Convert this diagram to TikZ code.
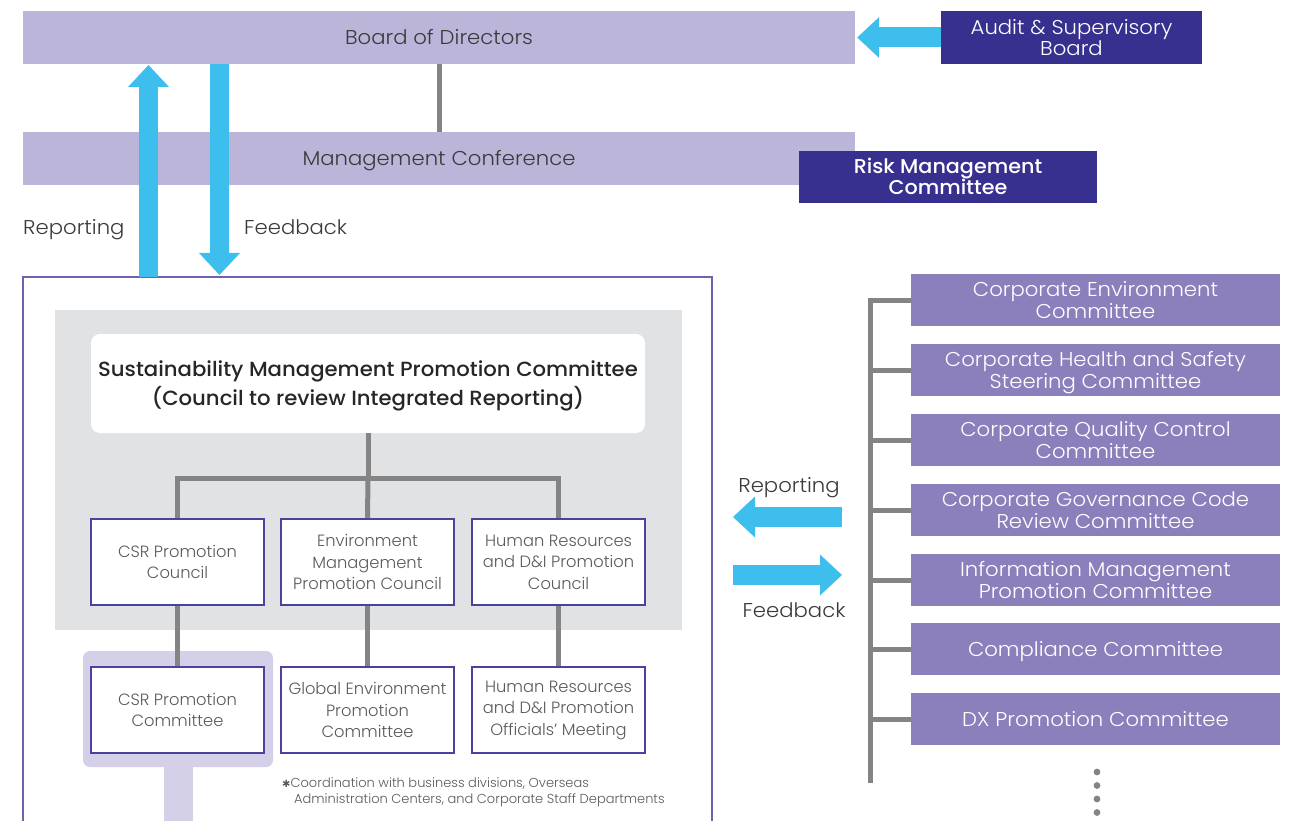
\documentclass[tikz,border=0pt]{standalone}
\usepackage{fontspec}
\setmainfont{Poppins}[UprightFont=* Light, BoldFont=* Medium]
\newfontfamily\widefont{Poppins}[UprightFont=* Light, BoldFont=* Medium, FakeStretch=1.06]
\newfontfamily\wideboldfont{Poppins Medium}[FakeStretch=1.035]
\newfontfamily\symfont{DejaVu Sans}
\usetikzlibrary{arrows.meta,calc}
\definecolor{lav}{HTML}{BBB5DA}
\definecolor{indigo}{HTML}{38308F}
\definecolor{rbox}{HTML}{8B80BB}
\definecolor{cyanar}{HTML}{3DBEEC}
\definecolor{connc}{HTML}{848484}
\definecolor{framec}{HTML}{6B62B0}
\definecolor{sbord}{HTML}{4A42A0}
\definecolor{greyreg}{HTML}{E1E2E4}
\definecolor{hilite}{HTML}{D3D0E8}
\definecolor{txt}{HTML}{3A3A3A}
\definecolor{stxt}{HTML}{5A5A5A}
\begin{document}
\begin{tikzpicture}[x=1pt,y=-1pt,
  oneline/.style={text height=14pt, text depth=0pt},
  twoline/.style={text height=36pt, text depth=0pt},
  bar/.style={fill=lav, minimum width=832pt, minimum height=53pt, inner sep=0pt, text=txt, oneline, font=\widefont\fontsize{20}{22}\selectfont},
  darkbox/.style={fill=indigo, inner sep=0pt, text=white, align=center},
  rb/.style={fill=rbox, minimum width=369pt, minimum height=52pt, inner sep=0pt, text=white, align=center, font=\widefont\fontsize{20}{22}\selectfont},
  sb/.style={draw=sbord, line width=1.6pt, fill=white, minimum width=173pt, minimum height=86pt, inner sep=0pt, text=stxt, align=center, font=\fontsize{16.3}{21.5}\selectfont},
  connl/.style={draw=connc, line width=5pt},
  lbl/.style={inner sep=0pt, text=txt, oneline, font=\widefont\fontsize{20}{22}\selectfont},
  cyarrow/.style={draw=cyanar, line width=#1, -{Triangle[width=41pt,length=22pt,line width=0pt]}},
  cyarrow/.default=19pt
]
\useasboundingbox (0,0) rectangle (1291,821);
% top bars
\node[bar] (board) at (439,37.5) {Board of Directors};
\node[bar] (mgmt) at (439,158.5) {Management Conference};
\draw[connl] (board.south) -- (mgmt.north);
\node[darkbox, twoline, minimum width=261pt, minimum height=53pt, font=\widefont\fontsize{20}{21}\selectfont] (audit) at (1071.5,37.5) {Audit \& Supervisory\\Board};
\node[darkbox, twoline, minimum width=298pt, minimum height=52pt, font=\wideboldfont\fontsize{20}{21}\selectfont] (risk) at (948,177) {Risk Management\\Committee};
\draw[cyarrow=20pt] (audit.west) -- ($(board.east)+(2,0)$);

% big frame
\draw[framec, line width=1.5pt] (23,821) -- (23,277) -- (712,277) -- (712,821);
\fill[greyreg] (55,310) rectangle (682,630);
\fill[hilite, rounded corners=7pt] (83,651) rectangle (273,767);
\fill[hilite] (164,767) rectangle (193,821);

% reporting / feedback arrows left
\coordinate (repS) at (148.5,277);
\coordinate (repE) at (148.5,65);
\coordinate (fbS) at (219.5,64);
\coordinate (fbE) at (219.5,275);
\draw[cyarrow] (repS) -- (repE);
\draw[cyarrow] (fbS) -- (fbE);
\node[lbl, anchor=west] (replbl) at (23,228) {Reporting};
\node[lbl, anchor=west] (fblbl) at (244,228) {Feedback};

% sustainability committee
\node[fill=white, rounded corners=9pt, minimum width=554pt, minimum height=99pt, inner sep=0pt] (sust) at (368,383.5) {};
\node[inner sep=0pt, align=center, text=black!85, font=\wideboldfont\fontsize{20.5}{29.5}\selectfont] (susttxt) at ($(sust.center)+(0,2.5)$) {Sustainability Management Promotion Committee\\(Council to review Integrated Reporting)};

\node[sb] (csr1) at (177.5,562) {CSR Promotion\\Council};
\node[sb] (env1) at (367.5,562) {Environment\\Management\\Promotion Council};
\node[sb] (hr1) at (558.5,562) {Human Resources\\and D\&I Promotion\\Council};
\node[sb] (csr2) at (177.5,710) {CSR Promotion\\Committee};
\node[sb] (env2) at (367.5,710) {Global Environment\\Promotion\\Committee};
\node[sb] (hr2) at (558.5,710) {Human Resources\\and D\&I Promotion\\Officials’ Meeting};

\coordinate (junc) at ($(sust.south)+(0,45)$);
\draw[connl] (sust.south) -- (junc);
\draw[connl] (csr1.north) |- (junc) -| (hr1.north);
\draw[connl] (junc) -- (env1.north);
\draw[connl] (csr1.south) -- (csr2.north);
\draw[connl] (env1.south) -- (env2.north);
\draw[connl] (hr1.south) -- (hr2.north);

\node[inner sep=0pt, anchor=west, text=stxt, font=\fontsize{13}{15}\selectfont] (fn1) at (282,784) {{\symfont\fontsize{10}{10}\selectfont ✱}Coordination with business divisions, Overseas};
\node[inner sep=0pt, anchor=west, text=stxt, font=\fontsize{13}{15}\selectfont] (fn2) at (294,800) {Administration Centers, and Corporate Staff Departments};

% right column
\node[rb, twoline] (rb1) at (1095.5,300) {Corporate Environment\\Committee};
\node[rb, twoline] (rb2) at (1095.5,370) {Corporate Health and Safety\\Steering Committee};
\node[rb, twoline] (rb3) at (1095.5,440) {Corporate Quality Control\\Committee};
\node[rb, twoline] (rb4) at (1095.5,510) {Corporate Governance Code\\Review Committee};
\node[rb, twoline] (rb5) at (1095.5,580) {Information Management\\Promotion Committee};
\node[rb, oneline] (rb6) at (1095.5,649) {Compliance Committee};
\node[rb, oneline] (rb7) at (1095.5,719) {DX Promotion Committee};
\coordinate (trunkend) at (870,783);
\draw[connl] (rb1.west) -- (rb1.west -| trunkend) -- (trunkend);
\foreach \n in {rb2,rb3,rb4,rb5,rb6,rb7} \draw[connl] (\n.west) -- (\n.west -| trunkend);
\foreach \yy in {772,785.5,799,812.5} \fill[connc] (1097,\yy) circle (3.4pt);

% right arrows
\coordinate (rrS) at (842,517);
\coordinate (rrE) at (733,517);
\coordinate (rfS) at (733,575);
\coordinate (rfE) at (842,575);
\draw[cyarrow=20pt] (rrS) -- (rrE);
\draw[cyarrow=20pt] (rfS) -- (rfE);
\node[lbl] (rrlbl) at (789,485) {Reporting};
\node[lbl] (rflbl) at (794,610) {Feedback};
\end{tikzpicture}
\end{document}
